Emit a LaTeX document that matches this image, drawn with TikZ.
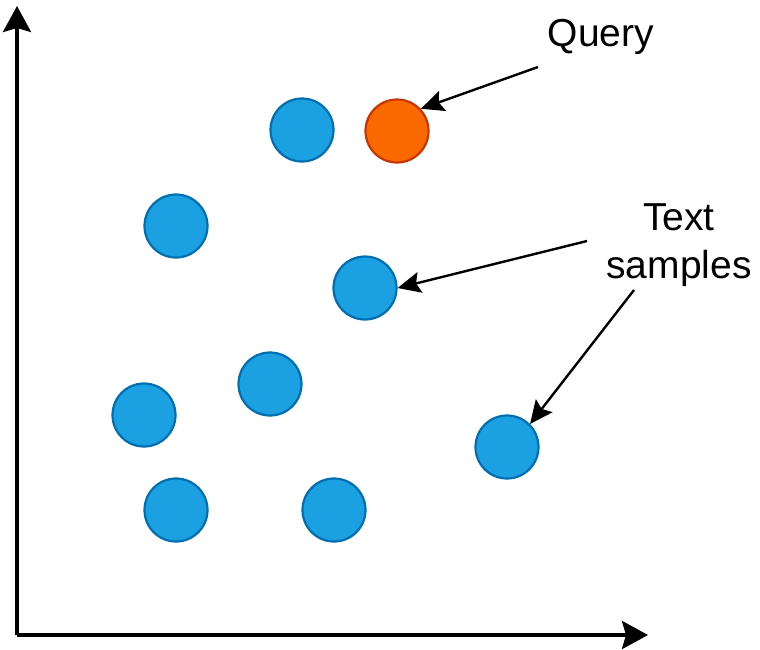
\documentclass[tikz,border=0pt]{standalone}
\usepackage{fontspec}
\setmainfont{Liberation Sans}
\usetikzlibrary{arrows.meta}
\definecolor{ptfill}{HTML}{1BA1E2}
\definecolor{ptline}{HTML}{006EAF}
\definecolor{qfill}{HTML}{FA6800}
\definecolor{qline}{HTML}{C73500}
\tikzset{
  point/.style={circle,draw=ptline,fill=ptfill,line width=2.2pt,minimum size=63pt,inner sep=0pt},
  query/.style={point,draw=qline,fill=qfill},
  axis/.style={line width=3.5pt,-{Stealth[length=26pt,width=28pt,inset=4pt]}},
  pointer/.style={line width=2.4pt,-{Stealth[length=23pt,width=21pt,inset=4pt]}},
  label/.style={font=\fontsize{39}{48}\selectfont,inner sep=0pt,align=center}
}
\begin{document}
\begin{tikzpicture}[x=1pt,y=-1pt]
  \useasboundingbox (0,0) rectangle (760,649);
  % axes
  \coordinate (origin) at (17,635);
  \coordinate (ytop) at (17,6);
  \coordinate (xend) at (648,635);
  \draw[axis] (origin) -- (ytop);
  \draw[axis] (origin) -- (xend);
  % data points
  \node[point] (p1) at (302,130) {};
  \node[query] (q)  at (397,131) {};
  \node[point] (p2) at (176,226) {};
  \node[point] (p3) at (365,288) {};
  \node[point] (p4) at (270,384) {};
  \node[point] (p5) at (144,415) {};
  \node[point] (p6) at (507,447) {};
  \node[point] (p7) at (176,510) {};
  \node[point] (p8) at (334,510) {};
  % labels
  \node[label,anchor=base] (lq) at (601,46) {Query};
  \node[label,anchor=base] (lt) at (679,278) {Text\\samples};
  % pointers
  \coordinate (sq) at (538,67);
  \coordinate (st1) at (587,241);
  \coordinate (st2) at (634,290);
  \draw[pointer] (sq) -- (q.43);
  \draw[pointer] (st1) -- (p3.east);
  \draw[pointer] (st2) -- (p6.45);
\end{tikzpicture}
\end{document}
